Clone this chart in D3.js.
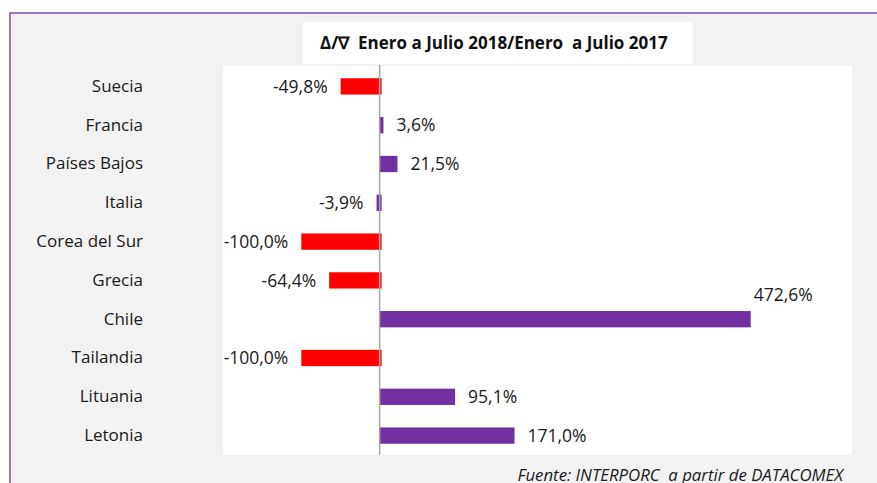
<!DOCTYPE html>
<html>
<head>
<meta charset="utf-8">
<script src="https://cdn.jsdelivr.net/npm/d3@7"></script>
<style>
  html, body { margin: 0; padding: 0; background: #ffffff; }
  svg { display: block; font-family: "Open Sans", "Noto Sans", sans-serif; }
</style>
</head>
<body>
<svg id="chart" width="877" height="483"></svg>
<script>
// Variación Enero–Julio 2018 vs Enero–Julio 2017, por país de destino
const countries = ["Suecia", "Francia", "Países Bajos", "Italia", "Corea del Sur",
                   "Grecia", "Chile", "Tailandia", "Lituania", "Letonia"];
const changePct = [-49.8, 3.6, 21.5, -3.9, -100.0, -64.4, 472.6, -100.0, 95.1, 171.0];
// Países destacados en rojo
const highlighted = ["Suecia", "Corea del Sur", "Grecia", "Tailandia"];
const titleText = "\u0394/\u2207  Enero a Julio 2018/Enero  a Julio 2017";
const sourceText = "Fuente: INTERPORC  a partir de DATACOMEX";

const svg = d3.select("#chart");
const W = 877, H = 483;
const FONT = "'Open Sans', 'Noto Sans', sans-serif";

// Marco exterior
svg.append("rect").attr("x", 10).attr("y", 13).attr("width", W).attr("height", H)
  .attr("fill", "#f2f2f2").attr("stroke", "#8248b4").attr("stroke-width", 1.5);

// Área de trazado
const plot = { left: 223, right: 852, top: 66, bottom: 455 };
svg.append("rect")
  .attr("x", plot.left).attr("y", plot.top)
  .attr("width", plot.right - plot.left).attr("height", plot.bottom - plot.top)
  .attr("fill", "#ffffff");

const x = d3.scaleLinear().domain([-200, 600]).range([223, 849.5]);
const y = d3.scaleBand().domain(countries).range([67, 455]).paddingInner(0.58).paddingOuter(0.29);

// Formato español: coma decimal, guion simple
const fmt = v => d3.format(".1f")(Math.abs(v)).replace(".", ",") + "%";
const label = v => (v < 0 ? "-" : "") + fmt(v);

// Barras
svg.append("g").selectAll("rect").data(countries).join("rect")
  .attr("x", (d, i) => Math.min(x(0), x(changePct[i])))
  .attr("width", (d, i) => Math.max(1.5, Math.abs(x(changePct[i]) - x(0)) + (changePct[i] < 0 ? 2 : 1)))
  .attr("y", d => y(d))
  .attr("height", y.bandwidth())
  .attr("fill", d => highlighted.includes(d) ? "#ff0000" : "#7030a0");

// Línea del cero
svg.append("line")
  .attr("x1", x(0)).attr("x2", x(0))
  .attr("y1", 65).attr("y2", plot.bottom)
  .attr("stroke", "#a6a6a6").attr("stroke-width", 1.5);

// Etiquetas de valor
svg.append("g").selectAll("text").data(countries).join("text")
  .attr("x", (d, i) => {
    const v = changePct[i];
    if (v > 400) return x(v) + 4;
    return v < 0 ? x(v) - 13 : x(v) + 14;
  })
  .attr("y", (d, i) => y(d) + y.bandwidth() / 2 + (changePct[i] > 400 ? -24 : 0))
  .attr("dy", "0.35em")
  .attr("text-anchor", (d, i) => changePct[i] < 0 ? "end" : "start")
  .attr("font-size", 17.5)
  .attr("fill", "#1a1a1a")
  .text((d, i) => label(changePct[i]));

// Etiquetas de categoría
const yAxis = d3.axisLeft(y).tickSize(0).tickPadding(0);
const gy = svg.append("g").attr("transform", "translate(143,0)").call(yAxis);
gy.select(".domain").remove();
gy.selectAll("text").attr("font-size", 17).attr("fill", "#1a1a1a")
  .style("font-family", FONT);

// Título
svg.append("rect").attr("x", 303).attr("y", 22).attr("width", 390).attr("height", 42).attr("fill", "#ffffff");
svg.append("text").attr("x", 320).attr("y", 43.5).attr("dy", "0.35em")
  .attr("font-size", 17).attr("font-weight", "bold").attr("fill", "#111")
  .style("white-space", "pre").attr("xml:space", "preserve")
  .text(titleText);

// Fuente
svg.append("text").attr("x", 843).attr("y", 481)
  .attr("text-anchor", "end").attr("font-size", 16.8).attr("font-style", "italic")
  .attr("fill", "#1a1a1a").style("white-space", "pre").attr("xml:space", "preserve")
  .text(sourceText);
</script>
</body>
</html>
